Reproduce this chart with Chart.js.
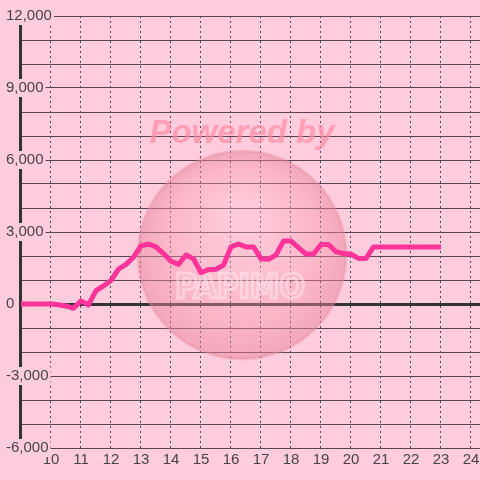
<!DOCTYPE html>
<html>
<head>
<meta charset="utf-8">
<script src="https://cdn.jsdelivr.net/npm/chart.js@4/dist/chart.umd.min.js"></script>
<style>
  html, body { margin: 0; padding: 0; background: #FFCCDD; }
  #wrap { width: 480px; height: 480px; }
</style>
</head>
<body>
<div id="wrap"><canvas id="lineChart" width="480" height="480"></canvas></div>
<script>
// hour of day
var hours = [9, 9.25, 9.5, 9.75, 10, 10.25, 10.5, 10.75, 11, 11.25, 11.5, 11.75,
  12, 12.25, 12.5, 12.75, 13, 13.25, 13.5, 13.75, 14, 14.25, 14.5, 14.75,
  15, 15.25, 15.5, 15.75, 16, 16.25, 16.5, 16.75, 17, 17.25, 17.5, 17.75,
  18, 18.25, 18.5, 18.75, 19, 19.25, 19.5, 19.75, 20, 20.25, 20.5, 20.75, 23];
var values = [0, 0, 0, 0, 0, -30, -80, -180, 130, -40, 560, 750,
  980, 1450, 1650, 1950, 2420, 2500, 2380, 2100, 1780, 1650, 2040, 1880,
  1300, 1430, 1450, 1620, 2380, 2500, 2380, 2380, 1880, 1860, 2040, 2620,
  2620, 2350, 2080, 2080, 2480, 2480, 2180, 2100, 2070, 1900, 1900, 2380, 2380];
var xTickLabels = [10, 11, 12, 13, 14, 15, 16, 17, 18, 19, 20, 21, 22, 23, 24];
var yLabelEvery = 3000;

var bg = '#FFCCDD';
var gridColor = '#5a4350';
var textColor = '#444444';

var points = hours.map(function (h, i) { return { x: h, y: values[i] }; });

// background + watermark (drawn under the line)
var watermark = {
  id: 'watermark',
  beforeDraw: function (chart) {
    var c = chart.ctx;
    c.save();
    c.fillStyle = bg;
    c.fillRect(0, 0, chart.width, chart.height);
    c.restore();
  },
  beforeDatasetsDraw: function (chart) {
    var c = chart.ctx;
    c.save();
    var cx = 242, cy = 255, r = 104;
    var g = c.createRadialGradient(cx, cy - 40, 10, cx, cy, r);
    g.addColorStop(0, 'rgba(255,200,212,0.35)');
    g.addColorStop(0.7, 'rgba(245,150,170,0.4)');
    g.addColorStop(1, 'rgba(230,130,155,0.5)');
    c.beginPath();
    c.arc(cx, cy, r, 0, Math.PI * 2);
    c.fillStyle = g;
    c.fill();
    c.lineWidth = 3;
    c.strokeStyle = 'rgba(225,140,160,0.35)';
    c.stroke();
    c.font = 'italic bold 33px "Liberation Sans", Arial, sans-serif';
    c.fillStyle = 'rgba(255,140,165,0.7)';
    c.textAlign = 'center';
    c.textBaseline = 'middle';
    c.fillText('Powered by', 242, 134);
    c.font = 'bold 33px "DejaVu Sans Condensed", "DejaVu Sans", sans-serif';
    c.lineWidth = 3;
    c.strokeStyle = 'rgba(255,230,236,0.55)';
    c.strokeText('PAPIMO', 240, 289);
    c.restore();
  }
};

var ctx = document.getElementById('lineChart').getContext('2d');

var myChart = new Chart(ctx, {
  type: 'scatter',
  data: {
    datasets: [{
      data: points,
      showLine: true,
      borderColor: '#FF3399',
      borderWidth: 5,
      pointRadius: 0,
      pointHoverRadius: 0,
      tension: 0,
      borderJoinStyle: 'round',
      clip: false
    }]
  },
  options: {
    responsive: false,
    animation: false,
    layout: { padding: { left: 20, top: 16, right: 0, bottom: 8 } },
    plugins: {
      legend: { display: false },
      tooltip: { enabled: false }
    },
    scales: {
      x: {
        type: 'linear',
        min: 8.9667,
        max: 24.3,
        border: { display: false, dash: [2, 3] },
        grid: {
          color: gridColor,
          lineWidth: 1,
          drawTicks: false
        },
        afterBuildTicks: function (scale) {
          scale.ticks = xTickLabels.map(function (v) { return { value: v }; });
        },
        afterFit: function (scale) {
          scale.paddingLeft = 0;
          scale.paddingRight = 0;
          scale.height = 24;
        },
        ticks: {
          color: textColor,
          padding: 3,
          maxRotation: 0,
          autoSkip: false,
          font: { family: '"Liberation Sans", Arial, sans-serif', size: 15 }
        }
      },
      y: {
        min: -6000,
        max: 12000,
        border: { display: true, color: '#333333', width: 3 },
        grid: {
          drawTicks: false,
          color: function (c) { return c.tick && c.tick.value === 0 ? '#333333' : gridColor; },
          lineWidth: function (c) { return c.tick && c.tick.value === 0 ? 3 : 1; }
        },
        afterFit: function (scale) {
          scale.width = 0;
        },
        ticks: {
          stepSize: 1000,
          mirror: true,
          padding: -14,
          color: textColor,
          showLabelBackdrop: true,
          backdropColor: bg,
          backdropPadding: { top: 0, bottom: 0, left: 2, right: 2 },
          font: { family: '"Liberation Sans", Arial, sans-serif', size: 15 },
          callback: function (v) {
            return v % yLabelEvery === 0 ? v.toLocaleString('en-US') : '';
          }
        }
      }
    }
  },
  plugins: [watermark]
});
</script>
</body>
</html>
